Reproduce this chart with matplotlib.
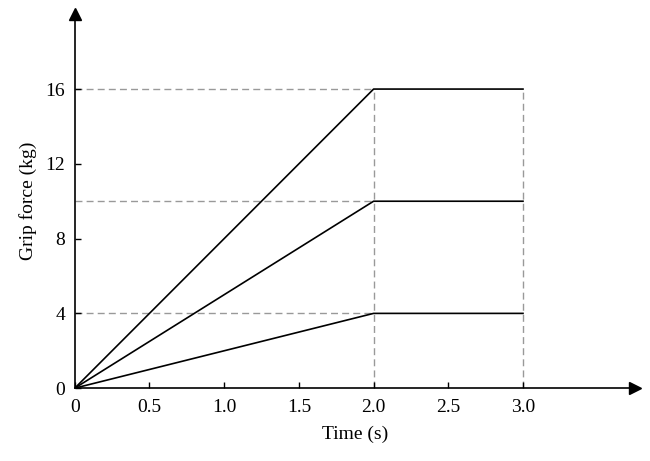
import matplotlib
matplotlib.use("Agg")
import matplotlib.pyplot as plt

plt.rcParams["font.family"] = ["Liberation Serif", "DejaVu Serif"]
plt.rcParams["xtick.direction"] = "in"
plt.rcParams["ytick.direction"] = "in"

# Data
time_s = [0, 2, 3]
force_high = [0, 16, 16]
force_mid = [0, 10, 10]
force_low = [0, 4, 4]
xticks = [0, 0.5, 1.0, 1.5, 2.0, 2.5, 3.0]
xtick_labels = ["0", "0.5", "1.0", "1.5", "2.0", "2.5", "3.0"]
yticks = [0, 4, 8, 12, 16]
levels = [4, 10, 16]

fig = plt.figure(figsize=(6.5, 4.61), dpi=100, facecolor="white")
ax = fig.add_axes([0.115, 0.158, 0.862, 0.811])

# gray dashed guides
for lv in levels:
    ax.plot([0, 2], [lv, lv], color="#999999", linestyle=(0, (5, 3)), linewidth=1.0, zorder=1)
for xv in [2, 3]:
    ax.plot([xv, xv], [0, 16], color="#999999", linestyle=(0, (5, 3)), linewidth=1.0, zorder=1)

for f in [force_high, force_mid, force_low]:
    ax.plot(time_s, f, color="black", linewidth=1.2, zorder=2)

ax.set_xlim(0, 3.75)
ax.set_ylim(0, 20)
ax.set_xticks(xticks)
ax.set_xticklabels(xtick_labels)
ax.set_yticks(yticks)
ax.tick_params(labelsize=14, length=4, width=1.0)
ax.tick_params(axis="x", pad=8)
ax.tick_params(axis="y", pad=7)

for s in ["top", "right"]:
    ax.spines[s].set_visible(False)
for s in ["left", "bottom"]:
    ax.spines[s].set_linewidth(1.2)

# arrow heads at axis ends
ax.plot(1, 0, ">k", markersize=8, transform=ax.get_yaxis_transform(), clip_on=False)
ax.plot(0, 1, "^k", markersize=8, transform=ax.get_xaxis_transform(), clip_on=False)

ax.set_xlabel("Time (s)", fontsize=14, labelpad=7)
ax.set_ylabel("Grip force (kg)", fontsize=14, labelpad=6)

plt.savefig("out.png", dpi=100, facecolor="white")
